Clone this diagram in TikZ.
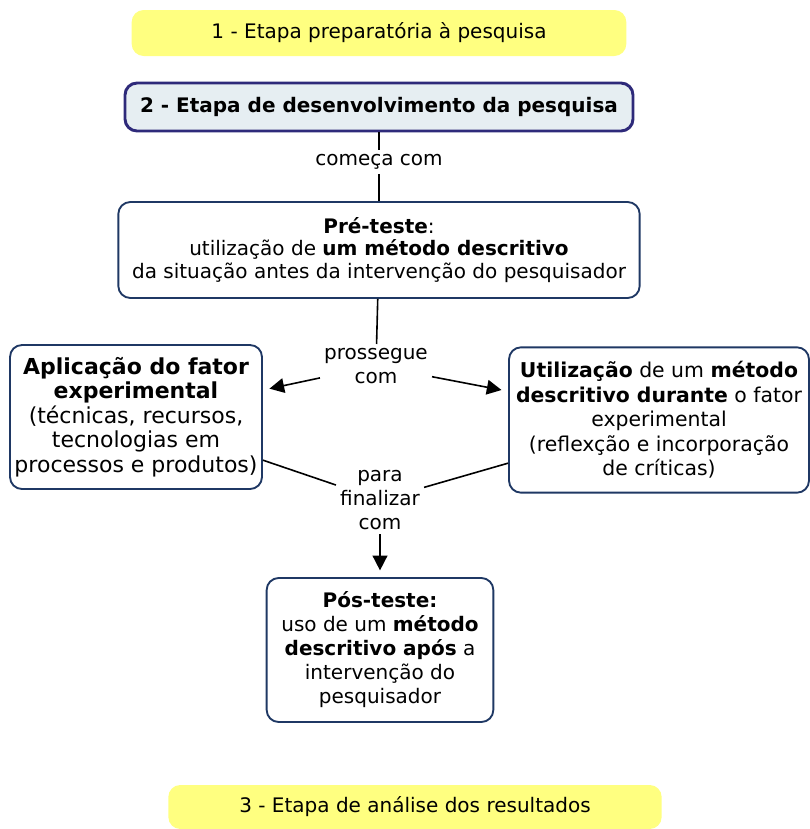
\documentclass[tikz,border=0pt]{standalone}
\usepackage{fontspec}
\setmainfont{DejaVu Sans}
\usetikzlibrary{arrows.meta,positioning}
\definecolor{etapayellow}{RGB}{255,255,128}
\definecolor{etapablue}{RGB}{230,238,242}
\definecolor{etapaborder}{RGB}{46,42,122}
\definecolor{navy}{RGB}{31,56,100}
\tikzset{
    etapa/.style={rounded corners=9pt, fill=etapayellow, align=center, inner sep=0pt},
    conceito/.style={draw=navy, line width=1.4pt, rounded corners=9pt, fill=white, align=center, inner sep=0pt},
    lateral/.style={conceito, font=\fontsize{16.5}{18.4}\selectfont},
    ligacao/.style={align=center, inner sep=3pt, fill=white},
    edge/.style={draw, line width=1.2pt},
    seta/.style={draw, line width=1.2pt, -{Triangle[length=11pt, width=11pt]}, shorten >=5pt}
}
\begin{document}
\begin{tikzpicture}[x=0.75pt, y=-0.75pt, font=\fontsize{15}{18}\selectfont]
    \useasboundingbox (0,0) rectangle (810,829);
    % Nodes
    \node[etapa, minimum width=371pt, minimum height=34.5pt] (E1) at (379,33) {1 - Etapa preparatória à pesquisa};
    \node[conceito, draw=etapaborder, line width=2.2pt, fill=etapablue, minimum width=381pt, minimum height=36pt] (E2) at (379,107) {\bfseries 2 - Etapa de desenvolvimento da pesquisa};
    \node[conceito, font=\fontsize{15}{17}\selectfont, minimum width=391pt, minimum height=72pt] (PRE) at (379,250)
        {\textbf{Pré-teste}:\\utilização de \textbf{um método descritivo}\\da situação antes da intervenção do pesquisador};
    \node[lateral, minimum width=189pt, minimum height=108pt] (APL) at (136,417)
        {\textbf{Aplicação do fator}\\\textbf{experimental}\\(técnicas, recursos,\\tecnologias em\\processos e produtos)};
    \node[lateral, font=\fontsize{15.3}{18.4}\selectfont, minimum width=225pt, minimum height=109pt] (UTI) at (659,420)
        {\textbf{Utilização} de um \textbf{método}\\\textbf{descritivo durante} o fator\\experimental\\(reflexção e incorporação\\de críticas)};
    \node[conceito, minimum width=170pt, minimum height=108pt] (POS) at (380,650)
        {\textbf{Pós-teste:}\\uso de um \textbf{método}\\\textbf{descritivo após} a\\intervenção do\\pesquisador};
    \node[etapa, minimum width=370pt, minimum height=33pt] (E3) at (415,807) {3 - Etapa de análise dos resultados};

    % linking phrases
    \node[ligacao] (L1) at (379,162) {começa com};
    \node[ligacao] (L2) at (376,366) {prossegue\\com};
    \node[ligacao] (L3) at (380,500) {para\\finalizar\\com};

    % edges
    \draw[edge] (E2) -- (L1);
    \draw[edge] (L1) -- (PRE);
    \draw[edge] (PRE) -- (L2);
    \draw[seta] (L2) -- (APL);
    \draw[seta] (L2) -- (UTI);
    \draw[edge] (APL) -- (L3);
    \draw[edge] (UTI) -- (L3);
    \draw[seta] (L3) -- (POS);
\end{tikzpicture}
\end{document}
